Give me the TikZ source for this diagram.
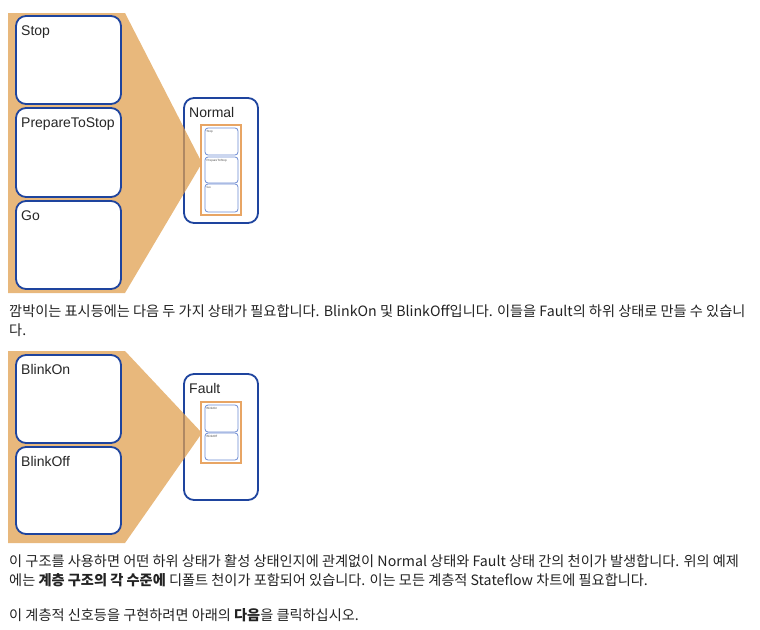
\documentclass[tikz,border=0pt]{standalone}
\usepackage{fontspec}
\setmainfont{Noto Sans CJK KR}
\newfontfamily\boxfont{Liberation Sans}
\definecolor{orfill}{RGB}{224,160,80}
\definecolor{stblue}{RGB}{30,68,158}
\definecolor{ltblue}{RGB}{110,140,210}
\definecolor{inor}{RGB}{232,165,100}
\definecolor{txtc}{RGB}{34,34,34}
\tikzset{
  bigstate/.style={draw=stblue, line width=1.8pt, rounded corners=10pt, fill=white, anchor=north west, inner sep=0pt, outer sep=0pt},
  smallstate/.style={draw=ltblue, line width=0.8pt, rounded corners=3pt, fill=white, anchor=north west, inner sep=0pt, outer sep=0pt},
  innerrect/.style={draw=inor, line width=1.2pt, fill=white, anchor=north west, inner sep=0pt, outer sep=0pt},
  orpoly/.style={fill=orfill, fill opacity=0.75},
  lbl/.style={anchor=base west, inner sep=0pt, font=\boxfont\fontsize{14}{16}\selectfont, text=black!85},
  tinylbl/.style={anchor=base west, inner sep=0pt, font=\boxfont\fontsize{3}{3.5}\selectfont, text=black!70},
  txt/.style={anchor=base west, inner sep=0pt, font=\fontsize{14.2}{17}\selectfont, text=txtc},
}
\begin{document}
\begin{tikzpicture}[x=1pt,y=-1pt]
\useasboundingbox (0,0) rectangle (760,629);
% ---------- first figure ----------
\node[bigstate, minimum width=74pt, minimum height=125pt] (normal) at (184,98) {};
\fill[orpoly] (8,13) -- (125,13) -- (202,163) -- (125,293) -- (8,293) -- cycle;
\node[lbl] (normallbl) at ([xshift=5pt,yshift=-19pt]normal.north west) {Normal};
\node[innerrect, minimum width=40pt, minimum height=90pt] (nin) at (201,125) {};
\node[smallstate, minimum width=33pt, minimum height=27pt] (sstop) at (205,128) {};
\node[smallstate, minimum width=33pt, minimum height=26pt] (sprep) at (205,157) {};
\node[smallstate, minimum width=33pt, minimum height=28pt] (sgo) at (205,184) {};
\node[tinylbl] at ([xshift=1.5pt,yshift=-4pt]sstop.north west) {Stop};
\node[tinylbl] at ([xshift=1.5pt,yshift=-4pt]sprep.north west) {PrepareToStop};
\node[tinylbl] at ([xshift=1.5pt,yshift=-4pt]sgo.north west) {Go};
\node[bigstate, minimum width=105pt, minimum height=88pt] (stop) at (16,16) {};
\node[bigstate, minimum width=105pt, minimum height=89pt] (prep) at (16,108) {};
\node[bigstate, minimum width=105pt, minimum height=88pt] (go) at (16,201) {};
\node[lbl] at ([xshift=5pt,yshift=-19pt]stop.north west) {Stop};
\node[lbl] at ([xshift=5pt,yshift=-19pt]prep.north west) {PrepareToStop};
\node[lbl] at ([xshift=5pt,yshift=-19pt]go.north west) {Go};
% ---------- text 1 ----------
\node[txt] (t1) at (9,316) {깜박이는 표시등에는 다음 두 가지 상태가 필요합니다. BlinkOn 및 BlinkOff입니다. 이들을 Fault의 하위 상태로 만들 수 있습니};
\node[txt] (t2) at (9,335) {다.};
% ---------- second figure ----------
\node[bigstate, minimum width=74pt, minimum height=126pt] (fault) at (184,374) {};
\fill[orpoly] (8,351) -- (125,351) -- (202,433) -- (125,543) -- (8,543) -- cycle;
\node[lbl] (faultlbl) at ([xshift=5pt,yshift=-19pt]fault.north west) {Fault};
\node[innerrect, minimum width=40pt, minimum height=61pt] (fin) at (201,402) {};
\node[smallstate, minimum width=33pt, minimum height=27pt] (son) at (205,405) {};
\node[smallstate, minimum width=33pt, minimum height=27pt] (soff) at (205,433) {};
\node[tinylbl] at ([xshift=1.5pt,yshift=-4pt]son.north west) {BlinkOn};
\node[tinylbl] at ([xshift=1.5pt,yshift=-4pt]soff.north west) {BlinkOff};
\node[bigstate, minimum width=105pt, minimum height=88pt] (on) at (16,355) {};
\node[bigstate, minimum width=105pt, minimum height=87pt] (off) at (16,447) {};
\node[lbl] at ([xshift=5pt,yshift=-19pt]on.north west) {BlinkOn};
\node[lbl] at ([xshift=5pt,yshift=-19pt]off.north west) {BlinkOff};
% ---------- text 2 ----------
\node[txt] (t3) at (9,566) {이 구조를 사용하면 어떤 하위 상태가 활성 상태인지에 관계없이 Normal 상태와 Fault 상태 간의 천이가 발생합니다. 위의 예제};
\node[txt] (t4) at (9,585) {에는 \textbf{계층 구조의 각 수준에} 디폴트 천이가 포함되어 있습니다. 이는 모든 계층적 Stateflow 차트에 필요합니다.};
\node[txt] (t5) at (9,620) {이 계층적 신호등을 구현하려면 아래의 \textbf{다음}을 클릭하십시오.};
\end{tikzpicture}
\end{document}
